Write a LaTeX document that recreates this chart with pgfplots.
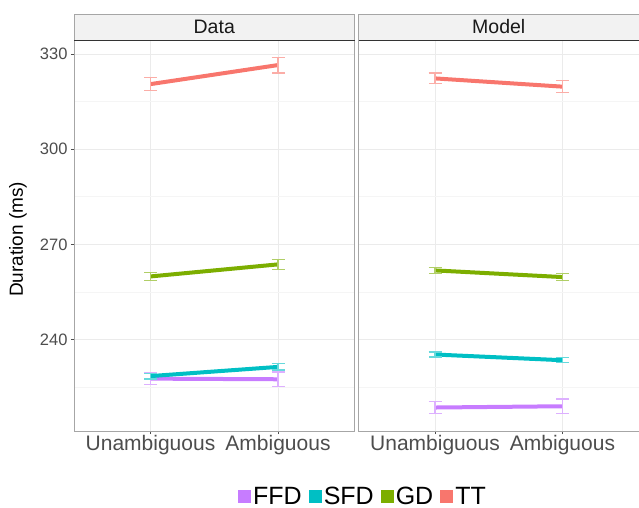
\documentclass[border=0pt]{standalone}
\usepackage{fontspec}
\setmainfont{Liberation Sans}
\usepackage{pgfplots}
\usepackage{pgfplotstable}
\pgfplotsset{compat=1.18}
\definecolor{cTT}{HTML}{F8766D}
\definecolor{cGD}{HTML}{7CAE00}
\definecolor{cSFD}{HTML}{00BFC4}
\definecolor{cFFD}{HTML}{C77CFF}
\definecolor{gmaj}{HTML}{EBEBEB}
\definecolor{gmin}{HTML}{F5F5F5}
\definecolor{bord}{HTML}{A6A6A6}
\definecolor{stripc}{HTML}{F2F2F2}
\definecolor{tickc}{HTML}{4D4D4D}
\definecolor{darkl}{HTML}{333333}

% Data panel
\pgfplotstableread{
x y e
1 320.5 2.1
2 326.5 2.5
}\dTT
\pgfplotstableread{
x y e
1 259.9 1.2
2 263.7 1.5
}\dGD
\pgfplotstableread{
x y e
1 228.5 0.9
2 231.4 1.0
}\dSFD
\pgfplotstableread{
x y e
1 227.7 1.9
2 227.5 2.3
}\dFFD
% Model panel
\pgfplotstableread{
x y e
1 322.3 1.7
2 319.7 1.9
}\mTT
\pgfplotstableread{
x y e
1 261.8 1.0
2 259.7 1.15
}\mGD
\pgfplotstableread{
x y e
1 235.3 0.8
2 233.5 0.8
}\mSFD
\pgfplotstableread{
x y e
1 218.6 1.8
2 219.0 2.3
}\mFFD

\pgfplotsset{
  panel/.style={
    scale only axis, width=280.5pt, height=391pt,
    anchor=south west,
    xmin=0.4, xmax=2.6, ymin=211.2, ymax=334.4,
    xtick={1,2}, xticklabels={Unambiguous,Ambiguous},
    ytick={240,270,300,330}, minor ytick={225,255,285,315},
    xtick pos=bottom, ytick pos=left,
    grid=both,
    major grid style={color=gmaj, line width=0.7pt},
    minor grid style={color=gmin, line width=0.6pt},
    axis line style={color=bord, line width=0.8pt},
    tick align=outside, major tick length=3pt, minor tick length=0pt,
    tick style={color=tickc, line width=0.6pt},
    minor tick style={draw=none},
    xticklabel style={font=\fontsize{21}{24}\selectfont, text=tickc, yshift=2pt},
    yticklabel style={font=\fontsize{16.5}{19}\selectfont, text=tickc},
    /pgf/number format/assume math mode=true,
    clip=false,
  },
  ln/.style={line width=4pt, #1, error bars/.cd, y dir=both, y explicit,
    error bar style={line width=1.2pt, color=#1!60},
    error mark options={rotate=90, mark size=6.5pt, line width=1.2pt, color=#1!60}},
}

\begin{document}
\begin{tikzpicture}[x=1pt,y=1pt]
\useasboundingbox (0,0) rectangle (639,507);
\begin{axis}[panel, at={(74pt,76pt)},
  ylabel={Duration (ms)},
  ylabel style={font=\fontsize{19}{22}\selectfont, at={(axis description cs:-0.2,0.49)}, anchor=center},
]
\addplot[ln=cFFD] table[x=x,y=y,y error=e] {\dFFD};
\addplot[ln=cSFD] table[x=x,y=y,y error=e] {\dSFD};
\addplot[ln=cGD] table[x=x,y=y,y error=e] {\dGD};
\addplot[ln=cTT] table[x=x,y=y,y error=e] {\dTT};
\end{axis}
\begin{axis}[panel, at={(358.5pt,76pt)},
  yticklabels={}, ytick style={draw=none},
]
\addplot[ln=cFFD] table[x=x,y=y,y error=e] {\mFFD};
\addplot[ln=cSFD] table[x=x,y=y,y error=e] {\mSFD};
\addplot[ln=cGD] table[x=x,y=y,y error=e] {\mGD};
\addplot[ln=cTT] table[x=x,y=y,y error=e] {\mTT};
\end{axis}
\begin{axis}[panel, at={(358.5pt,76pt)}, hide axis,
  legend columns=4,
  legend style={draw=none, fill=none, at={(axis description cs:0.016,-0.168)}, anchor=center,
    font=\fontsize{25}{29}\selectfont, inner sep=0pt,
    /tikz/every odd column/.append style={column sep=0pt},
    /tikz/every even column/.append style={column sep=5pt}},
  legend image code/.code={\fill[#1, draw=none] (0pt,-6pt) rectangle (13pt,7pt);},
]
\addlegendimage{fill=cFFD}\addlegendentry{FFD}
\addlegendimage{fill=cSFD}\addlegendentry{SFD}
\addlegendimage{fill=cGD}\addlegendentry{GD}
\addlegendimage{fill=cTT}\addlegendentry{TT}
\end{axis}
% strips
\filldraw[fill=stripc, draw=bord, line width=0.8pt] (74,467) rectangle (354.5,493);
\draw[darkl, line width=0.8pt] (74,467) -- (354.5,467);
\node[font=\fontsize{19.5}{22}\selectfont, text=black!90] at (214.25,480) {Data};
\filldraw[fill=stripc, draw=bord, line width=0.8pt] (358.5,467) rectangle (639,493);
\draw[darkl, line width=0.8pt] (358.5,467) -- (639,467);
\node[font=\fontsize{19.5}{22}\selectfont, text=black!90] at (498.75,480) {Model};
\end{tikzpicture}
\end{document}
